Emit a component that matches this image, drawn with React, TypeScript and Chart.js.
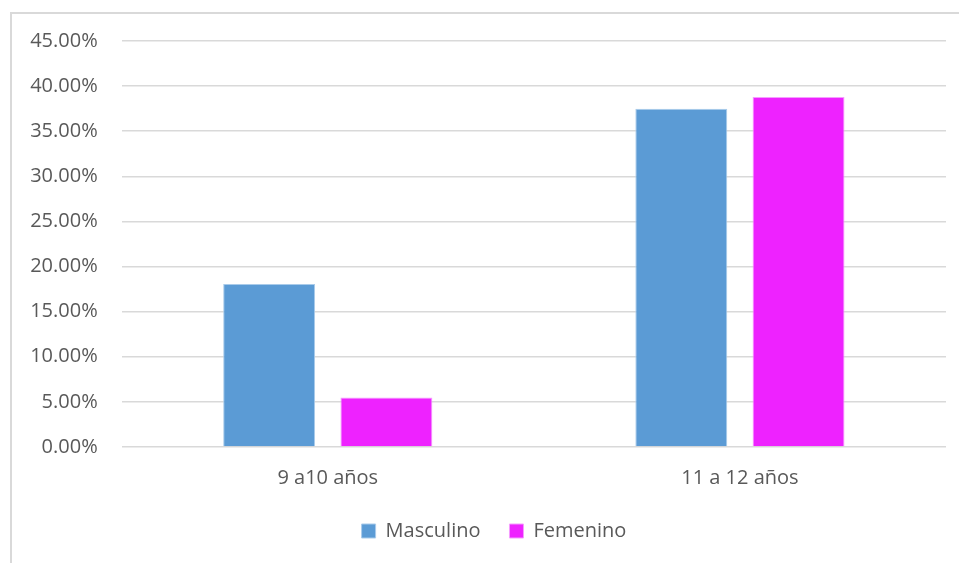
import React, { useEffect, useRef } from "react";
import { Chart, registerables } from "chart.js";

Chart.register(...registerables);

const categories = ["9 a10 años", "11 a 12 años"];
const seriesNames = ["Masculino", "Femenino"];
const masculino = [18.06, 37.5];
const femenino = [5.5, 38.8];
const yTicks = { min: 0, max: 45, step: 5 };

const TEXT = "#595959";
const GRID = "#d9d9d9";
const FONT = "'Open Sans', 'Noto Sans', sans-serif";

// Light frame on the left and top edges of the chart box
const framePlugin = {
  id: "frame",
  beforeDraw(chart: Chart) {
    const { ctx, width, height } = chart;
    ctx.save();
    ctx.fillStyle = "#ffffff";
    ctx.fillRect(0, 0, width, height);
    ctx.strokeStyle = GRID;
    ctx.lineWidth = 2;
    ctx.beginPath();
    ctx.moveTo(11, height + 2);
    ctx.lineTo(11, 13);
    ctx.lineTo(width + 2, 13);
    ctx.stroke();
    ctx.restore();
  },
};

// Centre the legend on the whole frame rather than the padded layout box
const legendShiftPlugin = {
  id: "legendShift",
  afterLayout(chart: any) {
    const lg = chart.legend;
    if (!lg) return;
    lg.left += 16;
    lg.right += 16;
  },
};

export default function App() {
  const ref = useRef<HTMLCanvasElement | null>(null);

  useEffect(() => {
    document.body.style.margin = "0";
    const canvas = ref.current;
    if (!canvas) return;
    const chart = new Chart(canvas, {
      type: "bar",
      data: {
        labels: categories,
        datasets: [
          {
            label: seriesNames[0],
            data: masculino,
            backgroundColor: "#5b9bd5",
            borderColor: "#a9cbea",
            borderWidth: 1,
          },
          {
            label: seriesNames[1],
            data: femenino,
            backgroundColor: "#ee22ff",
            borderColor: "#f59cff",
            borderWidth: 1,
          },
        ],
      },
      options: {
        animation: false,
        responsive: false,
        maintainAspectRatio: false,
        devicePixelRatio: 1,
        layout: { padding: { left: 10, right: 13, top: 41, bottom: 12 } },
        datasets: {
          bar: { categoryPercentage: 0.569, barPercentage: 0.784 },
        },
        plugins: {
          legend: {
            position: "bottom",
            labels: {
              boxWidth: 14,
              boxHeight: 14,
              padding: 29,
              color: TEXT,
              font: { family: FONT, size: 20 },
            },
          },
          tooltip: { enabled: false },
        },
        scales: {
          x: {
            afterFit(scale: any) {
              scale.height = 45;
            },
            grid: { display: false },
            border: { display: false },
            ticks: {
              color: TEXT,
              font: { family: FONT, size: 20 },
              padding: 11,
            },
          },
          y: {
            min: yTicks.min,
            max: yTicks.max,
            afterFit(scale: any) {
              scale.width = 111.7;
            },
            grid: { color: GRID, lineWidth: 1.5, drawTicks: false },
            border: { display: false },
            ticks: {
              stepSize: yTicks.step,
              color: TEXT,
              padding: 24,
              font: { family: FONT, size: 20 },
              callback: (v: any) => Number(v).toFixed(2) + "%",
            },
          },
        },
      },
      plugins: [framePlugin, legendShiftPlugin],
    });
    return () => chart.destroy();
  }, []);

  return <canvas ref={ref} width={959} height={563} style={{ display: "block" }} />;
}
